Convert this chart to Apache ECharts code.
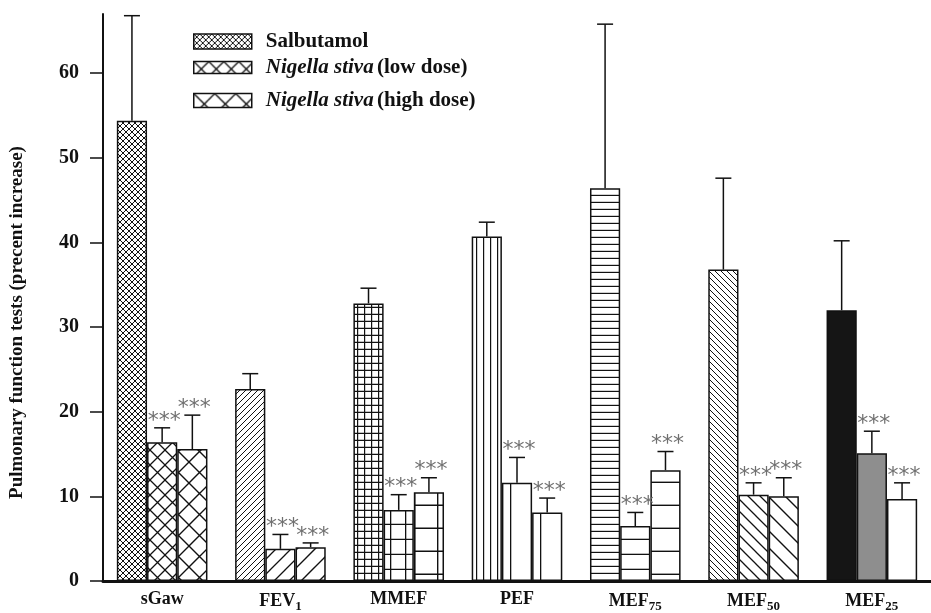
<!DOCTYPE html>
<html><head><meta charset="utf-8">
<script src="https://cdn.jsdelivr.net/npm/echarts@6/dist/echarts.min.js"></script>
<style>html,body{margin:0;padding:0;background:#fff}#chart{width:931px;height:613px}</style>
</head><body><div id="chart"></div>
<script>
// ---------------- data ----------------
const categories = ['sGaw', 'FEV1', 'MMEF', 'PEF', 'MEF75', 'MEF50', 'MEF25'];
const categoryLabels = ['sGaw', 'FEV{sub|1}', 'MMEF', 'PEF', 'MEF{sub|75}', 'MEF{sub|50}', 'MEF{sub|25}'];
const seriesNames = ['Salbutamol', 'Nigella stiva (low dose)', 'Nigella stiva (high dose)'];
const salbutamol    = [54.4, 22.7, 32.8, 40.7, 46.4, 36.8, 32.0];
const salbutamolTop = [66.8, 24.5, 34.6, 42.4, 65.8, 47.6, 40.2];   // upper end of error bar
const lowDose       = [16.4, 3.8, 8.4, 11.6, 6.5, 10.2, 15.1];
const lowDoseTop    = [18.1, 5.5, 10.2, 14.6, 8.1, 11.6, 17.7];
const highDose      = [15.6, 4.0, 10.5, 8.1, 13.1, 10.0, 9.7];
const highDoseTop   = [19.6, 4.5, 12.2, 9.8, 15.3, 12.2, 11.6];
const significant   = [false, true, true];   // '***' marks per series
const yTicks = [0, 10, 20, 30, 40, 50, 60];

// ---------------- styles ----------------
const FONT = '"Liberation Serif", "Times New Roman", serif';
const INK = '#111';
const BAR_W = 30.2;
const CAP = 8;

function makePattern(kind, w, h, lw) {
  const c = document.createElement('canvas');
  c.width = w; c.height = h;
  const ctx = c.getContext('2d');
  ctx.fillStyle = '#fff';
  ctx.fillRect(0, 0, w, h);
  ctx.strokeStyle = INK;
  ctx.lineWidth = lw;
  ctx.beginPath();
  const slash = () => {
    ctx.moveTo(-2, h + 2); ctx.lineTo(w + 2, -2);
    ctx.moveTo(-2, 2); ctx.lineTo(2, -2);
    ctx.moveTo(w - 2, h + 2); ctx.lineTo(w + 2, h - 2);
  };
  const back = () => {
    ctx.moveTo(-2, -2); ctx.lineTo(w + 2, h + 2);
    ctx.moveTo(w - 2, -2); ctx.lineTo(w + 2, 2);
    ctx.moveTo(-2, h - 2); ctx.lineTo(2, h + 2);
  };
  if (kind === 'x') { slash(); back(); }
  if (kind === '/') slash();
  if (kind === '\\') back();
  if (kind === 'h' || kind === 'grid') { ctx.moveTo(0, h - lw / 2); ctx.lineTo(w, h - lw / 2); }
  if (kind === 'v' || kind === 'grid') { ctx.moveTo(lw / 2, 0); ctx.lineTo(lw / 2, h); }
  ctx.stroke();
  return { image: c, repeat: 'repeat' };
}

// pattern per series per category
const patternSpecs = [
  [['x', 6, 6, 1], ['/', 6, 6, 1], ['grid', 7, 7, 1.2], ['v', 7, 10, 1.2], ['h', 10, 7, 1.2], ['\\', 6, 6, 1], ['solid', '#151515']],
  [['x', 15, 15, 1.3], ['/', 15, 15, 1.3], ['grid', 15, 15, 1.3], ['v', 30, 10, 1.3], ['h', 10, 15, 1.3], ['\\', 12, 12, 1.3], ['solid', '#8e8e8e']],
  [['x', 21, 21, 1.4], ['/', 18, 18, 1.4], ['grid', 23, 23, 1.4], ['v', 30, 10, 1.3], ['h', 10, 23, 1.4], ['\\', 17, 17, 1.4], ['solid', '#ffffff']]
];
function colorFor(spec) {
  if (spec[0] === 'solid') return spec[1];
  return makePattern(spec[0], spec[1], spec[2], spec[3]);
}

const values = [salbutamol, lowDose, highDose];
const tops = [salbutamolTop, lowDoseTop, highDoseTop];

const barSeries = values.map((arr, s) => ({
  name: seriesNames[s],
  type: 'bar',
  barWidth: BAR_W,
  barGap: '0%',
  itemStyle: { color: colorFor(patternSpecs[s][0]), borderColor: INK, borderWidth: 1.5 },
  data: arr.map((v, i) => ({
    value: v,
    itemStyle: { color: colorFor(patternSpecs[s][i]), borderColor: INK, borderWidth: 1.5 }
  })),
  z: 2
}));

const errData = [];
values.forEach((arr, s) => arr.forEach((v, i) => errData.push([i, v, tops[s][i], s, significant[s] ? 1 : 0])));

const errSeries = {
  type: 'custom',
  z: 5,
  silent: true,
  data: errData,
  encode: { x: 0, y: 2 },
  renderItem: function (params, api) {
    const ci = api.value(0);
    const p0 = api.coord([ci, api.value(1)]);
    const p1 = api.coord([ci, api.value(2)]);
    const x = p0[0] + (api.value(3) - 1) * BAR_W;
    const children = [
      { type: 'line', shape: { x1: x, y1: p0[1], x2: x, y2: p1[1] }, style: { stroke: INK, lineWidth: 1.5 } },
      { type: 'line', shape: { x1: x - CAP, y1: p1[1], x2: x + CAP, y2: p1[1] }, style: { stroke: INK, lineWidth: 1.5 } }
    ];
    if (api.value(4)) {
      children.push({ type: 'text', style: { text: '***', x: x + 2, y: p1[1] - 7, align: 'center', verticalAlign: 'middle', fill: '#707070', font: '22px "DejaVu Sans"' } });
    }
    return { type: 'group', children: children };
  }
};

function legendFor(name, top, ih) {
  return {
    data: [{ name: name, icon: 'rect' }],
    left: 193, top: top, padding: 0,
    itemWidth: 58, itemHeight: ih,
    selectedMode: false,
    itemStyle: { borderColor: INK, borderWidth: 1.5 },
    formatter: function (n) {
      if (n === 'Salbutamol') return '{b|Salbutamol}';
      const m = n.match(/^Nigella stiva (.*)$/);
      return '{i|Nigella stiva} {b|' + m[1] + '}';
    },
    textStyle: {
      rich: {
        b: { fontFamily: FONT, fontWeight: 'bold', fontSize: 21, color: INK, padding: [0, 0, 0, 0] },
        i: { fontFamily: FONT, fontWeight: 'bold', fontStyle: 'italic', fontSize: 21, color: INK, padding: [0, 0, 0, 9] }
      }
    }
  };
}
const legends = [legendFor(seriesNames[0], 31, 15), legendFor(seriesNames[1], 57, 12), legendFor(seriesNames[2], 90, 14)];
legends[0].textStyle.rich.b.padding = [0, 0, 0, 9];

const chart = echarts.init(document.getElementById('chart'), null, { renderer: 'canvas' });
chart.setOption({
  animation: false,
  backgroundColor: '#fff',
  grid: { left: 96, right: -9, top: 14, bottom: 27, containLabel: false },
  legend: legends,
  xAxis: {
    type: 'category',
    data: categories,
    axisLine: { lineStyle: { color: INK, width: 3 } },
    axisTick: { show: false },
    axisLabel: {
      interval: 0,
      margin: 9,
      color: INK,
      fontFamily: FONT, fontWeight: 'bold', fontSize: 18,
      formatter: function (v, i) { return categoryLabels[i]; },
      rich: { sub: { fontFamily: FONT, fontWeight: 'bold', fontSize: 13, color: INK, padding: [10, 0, 0, 0] } }
    }
  },
  yAxis: {
    type: 'value',
    min: 0, max: 67, interval: 10,
    name: 'Pulmonary function tests (precent increase)',
    nameLocation: 'middle',
    nameGap: 76,
    nameTextStyle: { fontFamily: FONT, fontWeight: 'bold', fontSize: 19, color: INK, padding: [0, 50, 0, 0] },
    axisLine: { show: true, lineStyle: { color: INK, width: 2 } },
    axisTick: { show: true, length: 13, lineStyle: { color: INK, width: 1.5 }, customValues: yTicks },
    axisLabel: { margin: 24, color: INK, fontFamily: FONT, fontWeight: 'bold', fontSize: 20, customValues: yTicks },
    splitLine: { show: false }
  },
  series: barSeries.concat([errSeries])
});
</script></body></html>
